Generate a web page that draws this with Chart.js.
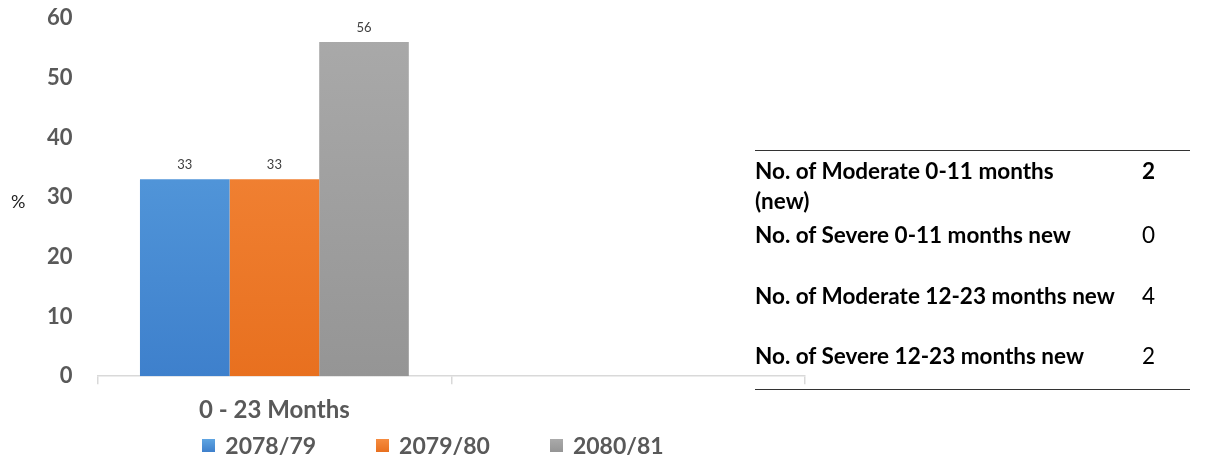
<!DOCTYPE html>
<html>
<head>
<meta charset="utf-8">
<script src="https://cdn.jsdelivr.net/npm/chart.js@4.4.1/dist/chart.umd.min.js"></script>
<style>
  body { margin: 0; background: #fff; font-family: Lato, sans-serif; }
  #wrap { position: relative; width: 1212px; height: 472px; overflow: hidden; }
  #chartBox { position: absolute; left: 0; top: -20px; width: 866px; height: 512px; }
  #pct { position: absolute; left: 11px; top: 190px; font-size: 18px; color: #222; }
  #legend { position: absolute; left: 0; top: 431px; width: 866px; display: flex; justify-content: center; }
  .lg-item { display: flex; align-items: center; font-weight: bold; font-size: 23px; color: #595959; margin: 0 30px; }
  .lg-box { width: 13px; height: 13px; margin-right: 10px; }
  #table { position: absolute; left: 755px; top: 150px; width: 435px; height: 238px;
           border-top: 1.5px solid #333; border-bottom: 1.5px solid #333; }
  .row { position: absolute; left: 0; font-size: 22.5px; color: #000; line-height: 30px; }
  .lbl { font-weight: bold; }
  .val { position: absolute; left: 387px; top: 0; }
</style>
</head>
<body>
<div id="wrap">
  <div id="chartBox"><canvas id="graph"></canvas></div>
  <div id="pct">%</div>
  <div id="legend"></div>
  <div id="table"></div>
</div>
<script>
// Chart data
const categories = ['0 - 23 Months', ''];
const yearLabels = ['2078/79', '2079/80', '2080/81'];
const values2078 = [33, null];
const values2079 = [33, null];
const values2080 = [56, null];
const yTicks = [0, 10, 20, 30, 40, 50, 60];

// Side table
const tableLabels = ['No. of Moderate 0-11 months<br>(new)', 'No. of Severe 0-11 months new',
                     'No. of Moderate 12-23 months new', 'No. of Severe 12-23 months new'];
const tableValues = [2, 0, 4, 2];

// Colours (top / bottom of the gradient)
const colours = [
  ['#5FA5E2', '#3E80CC'],
  ['#F68C40', '#E8701F'],
  ['#AAAAAA', '#959595']
];

function gradientFor(i) {
  return (ctx) => {
    const area = ctx.chart.chartArea;
    if (!area) return colours[i][1];
    const g = ctx.chart.ctx.createLinearGradient(0, area.top, 0, area.bottom);
    g.addColorStop(0, colours[i][0]);
    g.addColorStop(1, colours[i][1]);
    return g;
  };
}

// Value labels above each bar
const valueLabels = {
  id: 'valueLabels',
  afterDatasetsDraw(chart) {
    const ctx = chart.ctx;
    ctx.save();
    ctx.font = '13px Lato, sans-serif';
    ctx.fillStyle = '#404040';
    ctx.textAlign = 'center';
    ctx.textBaseline = 'middle';
    chart.data.datasets.forEach((ds, di) => {
      chart.getDatasetMeta(di).data.forEach((bar, i) => {
        if (ds.data[i] == null) return;
        ctx.fillText(ds.data[i], bar.x, bar.y - 14);
      });
    });
    ctx.restore();
  }
};

const seriesValues = [values2078, values2079, values2080];

const config = {
  type: 'bar',
  data: {
    labels: categories,
    datasets: yearLabels.map((lbl, i) => ({
      label: lbl,
      data: seriesValues[i],
      backgroundColor: gradientFor(i),
      borderWidth: 0,
      categoryPercentage: 0.76,
      barPercentage: 1.0
    }))
  },
  options: {
    responsive: true,
    maintainAspectRatio: false,
    animation: false,
    layout: { padding: { top: 5, right: 61, bottom: 55, left: 22 } },
    plugins: {
      legend: { display: false },
      tooltip: { enabled: false }
    },
    scales: {
      x: {
        grid: { display: true, drawOnChartArea: false, color: '#D9D9D9', tickLength: 8, lineWidth: 1.5 },
        border: { color: '#D9D9D9', width: 1.5 },
        ticks: { color: '#595959', padding: 12, font: { family: 'Lato', size: 24, weight: 'bold' } }
      },
      y: {
        min: 0,
        max: 60,
        afterBuildTicks: (axis) => { axis.ticks = yTicks.map(v => ({ value: v })); },
        grid: { display: false, drawTicks: false },
        border: { display: false },
        ticks: { color: '#595959', padding: 25, font: { family: 'Lato', size: 22, weight: 'bold' } }
      }
    }
  },
  plugins: [valueLabels]
};

const myChart = new Chart(document.getElementById('graph').getContext('2d'), config);

// Legend built from the datasets
const legendEl = document.getElementById('legend');
myChart.data.datasets.forEach((ds, i) => {
  const item = document.createElement('div');
  item.className = 'lg-item';
  item.innerHTML = `<span class="lg-box" style="background:linear-gradient(${colours[i][0]},${colours[i][1]})"></span>${ds.label}`;
  legendEl.appendChild(item);
});

// Table rows
const rowTops = [5, 69, 130, 190];
const tableEl = document.getElementById('table');
tableLabels.forEach((lbl, i) => {
  const row = document.createElement('div');
  row.className = 'row';
  row.style.top = rowTops[i] + 'px';
  row.innerHTML = `<span class="lbl">${lbl}</span><span class="val" style="font-weight:${i === 0 ? 'bold' : 'normal'}">${tableValues[i]}</span>`;
  tableEl.appendChild(row);
});
</script>
</body>
</html>
